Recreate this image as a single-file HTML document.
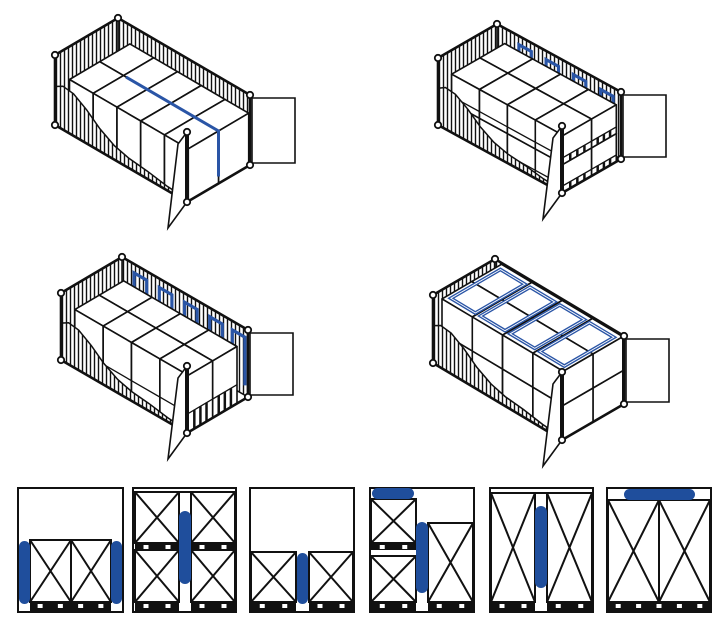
<!DOCTYPE html>
<html><head><meta charset="utf-8"><style>
html,body{margin:0;padding:0;background:#fff;width:725px;height:631px;overflow:hidden}
svg{display:block}
</style></head><body>
<svg id="s" width="725" height="631" viewBox="0 0 725 631" xmlns="http://www.w3.org/2000/svg">
<g id="cont"></g>
<g id="bottom" stroke="#111" stroke-width="2" fill="none">
 <rect x="18" y="488" width="105" height="124"/>
 <rect x="30" y="540" width="41" height="62"/><rect x="71" y="540" width="40" height="62"/>
 <path d="M30 540L71 602M71 540L30 602M71 540L111 602M111 540L71 602"/>
 <rect x="19" y="541" width="11" height="63" rx="5.5" fill="#1f4e9c" stroke="none"/>
 <rect x="111" y="541" width="11" height="63" rx="5.5" fill="#1f4e9c" stroke="none"/>
 <rect x="133" y="488" width="103" height="124"/><path d="M133 492H236"/>
 <rect x="135" y="492" width="44" height="51"/><rect x="191" y="492" width="44" height="51"/>
 <path d="M135 492L179 543M179 492L135 543M191 492L235 543M235 492L191 543"/>
 <rect x="135" y="550" width="44" height="52"/><rect x="191" y="550" width="44" height="52"/>
 <path d="M135 550L179 602M179 550L135 602M191 550L235 602M235 550L191 602"/>
 <rect x="179" y="511" width="12" height="73" rx="6" fill="#1f4e9c" stroke="none"/>
 <rect x="250" y="488" width="104" height="124"/>
 <rect x="251" y="552" width="45" height="50"/><rect x="309" y="552" width="44" height="50"/>
 <path d="M251 552L296 602M296 552L251 602M309 552L353 602M353 552L309 602"/>
 <rect x="297" y="553" width="11" height="51" rx="5.5" fill="#1f4e9c" stroke="none"/>
 <rect x="370" y="488" width="104" height="124"/>
 <rect x="371" y="499" width="45" height="44"/><path d="M371 499L416 543M416 499L371 543"/>
 <rect x="371" y="556" width="45" height="46"/><path d="M371 556L416 602M416 556L371 602"/>
 <rect x="428" y="523" width="45" height="79"/><path d="M428 523L473 602M473 523L428 602"/>
 <rect x="372" y="488" width="42" height="11" rx="5.5" fill="#1f4e9c" stroke="none"/>
 <rect x="416" y="522" width="12" height="71" rx="6" fill="#1f4e9c" stroke="none"/>
 <rect x="490" y="488" width="103" height="124"/><path d="M490 493H593"/>
 <rect x="491" y="493" width="44" height="109"/><rect x="547" y="493" width="45" height="109"/>
 <path d="M491 493L535 602M535 493L491 602M547 493L592 602M592 493L547 602"/>
 <rect x="535" y="506" width="12" height="82" rx="6" fill="#1f4e9c" stroke="none"/>
 <rect x="607" y="488" width="104" height="124"/><path d="M607 500H711"/>
 <rect x="608" y="500" width="51" height="102"/><rect x="659" y="500" width="51" height="102"/>
 <path d="M608 500L659 602M659 500L608 602M659 500L710 602M710 500L659 602"/>
 <rect x="624" y="489" width="71" height="11" rx="5.5" fill="#1f4e9c" stroke="none"/>
</g>
<g id="pallets"></g>
</svg>
<script>
var NS="http://www.w3.org/2000/svg";
function el(par,tag,at){var e=document.createElementNS(NS,tag);for(var k in at)e.setAttribute(k,at[k]);par.appendChild(e);return e;}
var pg=document.getElementById('pallets');
var strips=[[30,111,602],[135,179,602],[191,235,602],[135,179,543],[191,235,543],[251,296,602],[309,353,602],[371,416,602],[428,473,602],[371,416,543],[491,535,602],[547,592,602],[608,710,602]];
strips.forEach(function(s){
  var h=s[2]==543?7:9;
  el(pg,'rect',{x:s[0],y:s[2],width:s[1]-s[0],height:h,fill:'#111'});
  var w=s[1]-s[0];var n=Math.max(2,Math.round(w/22));
  for(var i=0;i<n;i++){var cx=s[0]+w*(i+0.5)/n;el(pg,'rect',{x:cx-2.5,y:s[2]+2,width:5,height:4,fill:'#fff'});}
});
var cg=document.getElementById('cont');var uid=0;
function container(O,L,W,H,cfg){
  var g=el(cg,'g',{});
  function P(a,b,c){return [O[0]+a*L[0]+b*W[0]+c*H[0],O[1]+a*L[1]+b*W[1]+c*H[1]];}
  function pts(arr){return arr.map(function(p){return p[0].toFixed(1)+','+p[1].toFixed(1);}).join(' ');}
  function hatch(poly){
    var id='c'+(uid++);var cp=el(g,'clipPath',{id:id});el(cp,'polygon',{points:pts(poly)});
    el(g,'polygon',{points:pts(poly),fill:'#fff',stroke:'none'});
    var xs=poly.map(function(p){return p[0]}),ys=poly.map(function(p){return p[1]});
    var x0=Math.min.apply(0,xs),x1=Math.max.apply(0,xs),y0=Math.min.apply(0,ys),y1=Math.max.apply(0,ys);
    var d='';for(var x=x0+1.5;x<x1;x+=4)d+='M'+x.toFixed(1)+' '+y0+'V'+y1;
    el(g,'path',{d:d,stroke:'#111','stroke-width':1.4,'clip-path':'url(#'+id+')',fill:'none'});
    el(g,'polygon',{points:pts(poly),fill:'none',stroke:'#111','stroke-width':1.5});
  }
  el(g,'polygon',{points:pts([P(0,0,0),P(1,0,0),P(1,1,0),P(0,1,0)]),fill:'#fff',stroke:'#111','stroke-width':1.5});
  hatch([P(0,1,0),P(1,1,0),P(1,1,1),P(0,1,1)]);
  hatch([P(0,0,0),P(0,1,0),P(0,1,1),P(0,0,1)]);
  (cfg.farBlue||[]).forEach(function(a){
    el(g,'polyline',{points:pts([P(a,cfg.bb,0.2),P(a,cfg.bb,0.92),P(a+0.1,cfg.bb,0.92),P(a+0.1,cfg.bb,0.2)]),fill:'none',stroke:'#2a55a6','stroke-width':3.2});
  });
  var boxes=cfg.boxes.slice().sort(function(x,y){return (y[2]-x[2])||(x[0]-y[0])||(x[4]-y[4]);});
  boxes.forEach(function(b){
    var a0=b[0],a1=b[1],b0=b[2],b1=b[3],c0=b[4],c1=b[5],pal=b[6];
    var st={fill:'#fff',stroke:'#111','stroke-width':1.6,'stroke-linejoin':'round'};
    el(g,'polygon',Object.assign({points:pts([P(a0,b0,c1),P(a1,b0,c1),P(a1,b1,c1),P(a0,b1,c1)])},st));
    el(g,'polygon',Object.assign({points:pts([P(a0,b0,c0),P(a1,b0,c0),P(a1,b0,c1),P(a0,b0,c1)])},st));
    el(g,'polygon',Object.assign({points:pts([P(a1,b0,c0),P(a1,b1,c0),P(a1,b1,c1),P(a1,b0,c1)])},st));
    if(pal){var cp=c0+pal;
      el(g,'polyline',{points:pts([P(a0,b0,cp),P(a1,b0,cp),P(a1,b1,cp)]),fill:'none',stroke:'#111','stroke-width':1.3});
      for(var i=1;i<4;i++){var bb=b0+(b1-b0)*i/4;el(g,'line',{x1:P(a1,bb,c0)[0],y1:P(a1,bb,c0)[1],x2:P(a1,bb,cp)[0],y2:P(a1,bb,cp)[1],stroke:'#111','stroke-width':2.5});}
    }
  });
  if(cfg.topBlue){cfg.topBlue.forEach(function(r){
    el(g,'polygon',{points:pts([P(r[0],r[2],r[4]),P(r[1],r[2],r[4]),P(r[1],r[3],r[4]),P(r[0],r[3],r[4])]),fill:'none',stroke:'#2a55a6','stroke-width':3.6});
    el(g,'polygon',{points:pts([P(r[0],r[2],r[4]),P(r[1],r[2],r[4]),P(r[1],r[3],r[4]),P(r[0],r[3],r[4])]),fill:'none',stroke:'#fff','stroke-width':0.9});
  });}
  if(cfg.lineBlue){cfg.lineBlue.forEach(function(l){el(g,'polyline',{points:pts(l.map(function(q){return P(q[0],q[1],q[2]);})),fill:'none',stroke:'#2a55a6','stroke-width':3});});}
  var curve=[[0,0.55],[0.06,0.62],[0.14,0.6],[0.24,0.48],[0.34,0.32],[0.45,0.2],[0.56,0.14],[0.7,0.11],[0.85,0.06],[1,0.04]];
  var nw=[P(0,0,0)].concat(curve.map(function(q){return P(q[0],0,q[1]);})).concat([P(1,0,0)]);
  hatch(nw);
  var R={stroke:'#111','stroke-width':2.6,fill:'none'};
  el(g,'polyline',Object.assign({points:pts([P(0,0,1),P(0,1,1),P(1,1,1)])},R));
  el(g,'polyline',Object.assign({points:pts([P(0,0,0),P(1,0,0),P(1,1,0)])},R));
  el(g,'line',Object.assign({x1:P(0,0,0)[0],y1:P(0,0,0)[1],x2:P(0,0,1)[0],y2:P(0,0,1)[1]},R));
  el(g,'line',Object.assign({x1:P(1,1,0)[0],y1:P(1,1,0)[1],x2:P(1,1,1)[0],y2:P(1,1,1)[1]},R));
  var rt=P(1,1,1),rb=P(1,1,0);
  el(g,'polygon',{points:pts([[rt[0]+2,rt[1]+3],[rt[0]+45,rt[1]+3],[rt[0]+45,rb[1]-2],[rt[0]+2,rb[1]-2]]),fill:'#fff',stroke:'#111','stroke-width':1.6});
  var ht=P(1,0,1),hb=P(1,0,0);
  el(g,'polygon',{points:pts([ht,hb,[hb[0]-19,hb[1]+26],[ht[0]-9,ht[1]+12]]),fill:'#fff',stroke:'#111','stroke-width':1.6});
  el(g,'line',{x1:ht[0],y1:ht[1],x2:hb[0],y2:hb[1],stroke:'#111','stroke-width':4});
  [P(0,0,1),P(0,0,0),P(0,1,1),P(1,1,1),P(1,1,0),P(1,0,1),P(1,0,0)].forEach(function(p){
    el(g,'circle',{cx:p[0],cy:p[1],r:3.2,fill:'#fff',stroke:'#111','stroke-width':1.8});
  });
}
function grid(nA,a0,a1,rows,tiers,pal){var out=[];var da=(a1-a0)/nA;
  for(var i=0;i<nA;i++)rows.forEach(function(r){tiers.forEach(function(t){out.push([a0+i*da,a0+(i+1)*da,r[0],r[1],t[0],t[1],pal]);});});return out;}
container([55,125],[132,77],[63,-37],[0,-70],{
  boxes:grid(5,0.1,1,[[0.02,0.5],[0.5,0.98]],[[0,0.75]],0),
  lineBlue:[[[0.3,0.5,0.75],[1,0.5,0.75],[1,0.5,0.1]]]
});
container([438,125],[124,68],[59,-34],[0,-67],{
  bb:0.95,farBlue:[0.2,0.42,0.64,0.86],
  boxes:grid(4,0.1,1,[[0.02,0.5],[0.5,0.92]],[[0,0.42],[0.42,0.85]],0.1)
});
container([61,360],[126,73],[61,-36],[0,-67],{
  bb:0.95,farBlue:[0.12,0.32,0.52,0.72,0.9],
  boxes:grid(4,0.1,1,[[0.02,0.42],[0.42,0.82]],[[0,0.85]],0.28)
});
container([433,363],[129,77],[62,-36],[0,-68],{
  boxes:grid(4,0.06,1,[[0.02,0.5],[0.5,0.98]],[[0,0.5],[0.5,1]],0),
  topBlue:[[0.09,0.28,0.1,0.9,1],[0.32,0.51,0.1,0.9,1],[0.55,0.74,0.1,0.9,1],[0.78,0.97,0.1,0.9,1]]
});
</script>
</body></html>
